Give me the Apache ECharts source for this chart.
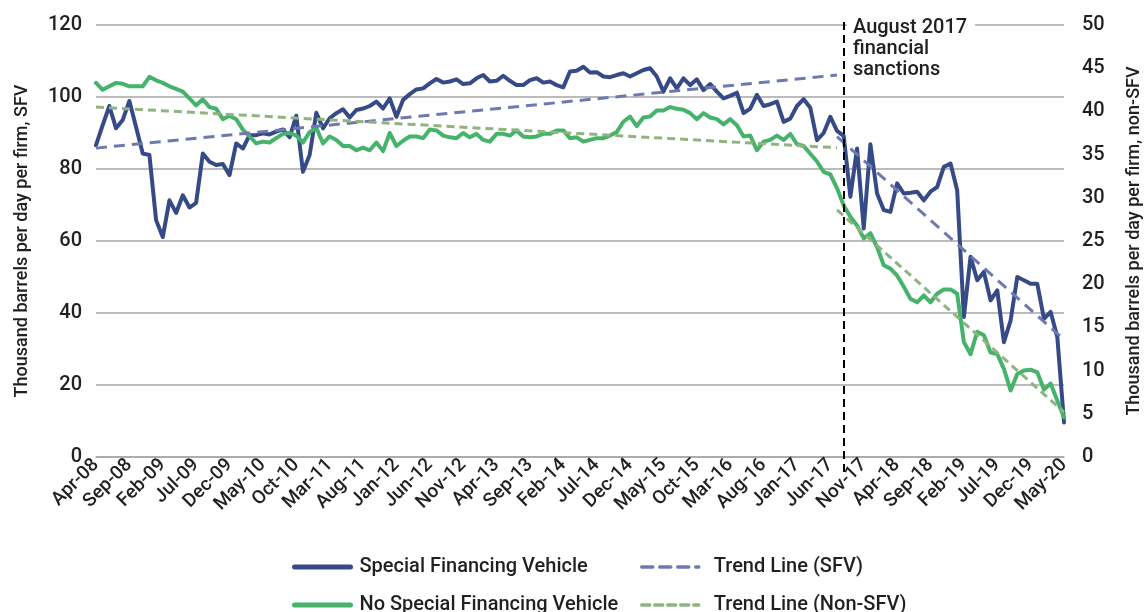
<!DOCTYPE html>
<html>
<head>
<meta charset="utf-8">
<script src="https://cdn.jsdelivr.net/npm/echarts@6/dist/echarts.min.js"></script>
<style>
  html, body { margin: 0; padding: 0; background: #fff; }
  #main { width: 1146px; height: 612px; }
</style>
</head>
<body>
<div id="main"></div>
<script>
// months Apr-08 .. May-20
var months = [];
var mNames = ['Jan','Feb','Mar','Apr','May','Jun','Jul','Aug','Sep','Oct','Nov','Dec'];
for (var y = 2008; y <= 2020; y++) {
    for (var m = 0; m < 12; m++) {
        if (y === 2008 && m < 3) continue;
        if (y === 2020 && m > 4) continue;
        months.push(mNames[m] + '-' + String(y).slice(2));
    }
}

// SFV, left axis
var sfv = [
    86.6, 92.2, 97.5, 91.3, 93.6, 98.9, 91.7, 84.3, 83.9, 65.8,
    61.1, 71.3, 67.8, 72.7, 69.3, 70.6, 84.3, 82.0, 81.1, 81.4,
    78.3, 87.1, 85.7, 89.4, 89.4, 89.9, 89.6, 90.4, 91.0, 88.8,
    94.8, 79.2, 83.9, 95.6, 91.3, 94.1, 95.5, 96.6, 94.3, 96.4,
    96.8, 97.5, 98.7, 96.8, 99.6, 94.5, 99.2, 100.8, 102.1, 102.4,
    103.8, 105.0, 104.0, 104.3, 104.9, 103.6, 103.8, 105.2, 106.1, 104.3,
    104.5, 105.9, 104.5, 103.3, 103.3, 104.7, 105.2, 104.0, 104.3, 103.3,
    102.7, 107.1, 107.3, 108.4, 106.8, 106.9, 105.7, 105.5, 106.1, 106.6,
    105.7, 106.6, 107.5, 108.0, 105.7, 101.5, 105.2, 102.4, 105.2, 103.3,
    104.9, 101.9, 103.6, 101.5, 99.6, 100.3, 101.2, 95.5, 96.8, 100.6,
    97.5, 98.0, 98.7, 93.1, 94.0, 97.5, 99.4, 97.0, 88.0, 90.0,
    94.5, 90.6, 89.2, 72.3, 85.7, 63.5, 86.9, 73.2, 68.6, 68.1,
    76.0, 73.2, 73.4, 73.7, 71.3, 73.7, 75.0, 80.6, 81.5, 74.1,
    38.9, 55.6, 49.1, 51.4, 43.5, 46.3, 31.9, 37.9, 50.0, 49.1,
    48.1, 48.1, 38.4, 40.3, 33.3, 9.6
];

// non-SFV, right axis
var nonSfv = [
    43.3, 42.5, 42.9, 43.3, 43.2, 42.9, 42.9, 42.9, 44.0, 43.6,
    43.3, 42.9, 42.6, 42.3, 41.5, 40.7, 41.4, 40.5, 40.3, 39.1,
    39.5, 39.1, 37.9, 37.1, 36.3, 36.5, 36.4, 36.9, 37.4, 37.5,
    37.2, 36.4, 37.6, 38.1, 36.3, 37.1, 36.7, 36.0, 36.0, 35.5,
    35.8, 35.5, 36.4, 35.4, 37.5, 36.0, 36.6, 37.1, 37.1, 36.9,
    37.9, 37.8, 37.2, 37.0, 36.9, 37.5, 37.0, 37.4, 36.7, 36.5,
    37.4, 37.4, 37.2, 37.8, 37.1, 37.0, 37.1, 37.4, 37.4, 37.8,
    37.8, 36.9, 37.0, 36.5, 36.7, 36.9, 36.9, 37.2, 37.6, 38.8,
    39.4, 38.3, 39.3, 39.4, 40.1, 40.1, 40.5, 40.3, 40.2, 39.8,
    39.1, 39.8, 39.3, 39.1, 38.5, 39.1, 38.4, 37.1, 37.2, 35.5,
    36.5, 36.7, 37.2, 36.7, 37.4, 36.2, 36.0, 35.1, 34.2, 33.0,
    32.7, 31.1, 29.1, 27.8, 26.8, 25.3, 25.9, 24.3, 22.2, 21.8,
    21.0, 19.7, 18.3, 17.9, 18.7, 17.9, 18.9, 19.4, 19.4, 18.9,
    13.3, 11.9, 14.5, 14.1, 12.1, 11.9, 10.2, 7.7, 9.6, 10.0,
    10.1, 9.8, 7.8, 8.5, 6.5, 4.6
];

// trend lines, end points
var sfvTrendPre = [['Apr-08', 85.8], ['Jul-17', 106.1]];
var sfvTrendPost = [['Jul-17', 89.0], ['May-20', 32.6]];
var nonTrendPre = [['Apr-08', 40.5], ['Jul-17', 35.8]];
var nonTrendPost = [['Jul-17', 28.6], ['May-20', 5.2]];

// sanctions line sits between Jul-17 and Aug-17
var sanctionIndex = 111.5;

var leftTicks = { min: 0, max: 120, interval: 20 };
var rightTicks = { min: 0, max: 50, interval: 5 };

var txt = '#231f20';
var font = 'Roboto';
var blue = '#354a86', green = '#46b36a', blueTrend = '#6f79b1', greenTrend = '#8fb47e';

function legendAt(name, left, top, iconW, lineW, gap) {
    return {
        data: [name],
        left: left, top: top,
        itemWidth: iconW, itemHeight: 3,
        itemStyle: { opacity: 0 },
        lineStyle: { width: lineW, cap: 'round' },
        textStyle: { color: txt, fontSize: 20, fontWeight: 500, padding: [0, 0, 0, gap] }
    };
}

var myChart = echarts.init(document.getElementById('main'));

myChart.setOption({
    animation: false,
    textStyle: { fontFamily: font },
    grid: [
        { left: 96, right: 82, top: 25, bottom: 155, outerBoundsMode: 'none' },
        // taller grid only for the sanctions marker, so it runs past the axes
        { left: 96, right: 82, top: 18, bottom: 140, outerBoundsMode: 'none' }
    ],
    legend: [
        legendAt('Special Financing Vehicle', 287, 552, 56, 5, 4),
        legendAt('Trend Line (SFV)', 635, 552, 57, 3.5, 10),
        legendAt('No Special Financing Vehicle', 287, 590, 56, 5, 4),
        legendAt('Trend Line (Non-SFV)', 635, 590, 57, 3.5, 10)
    ],
    xAxis: [
        {
            type: 'category',
            data: months,
            boundaryGap: false,
            axisLine: { lineStyle: { color: '#a6a6a6', width: 1.5 } },
            axisTick: { show: false },
            axisLabel: {
                interval: 4,
                rotate: 45,
                margin: 5,
                color: txt,
                fontSize: 19,
                fontWeight: 500
            }
        },
        {
            type: 'category',
            gridIndex: 1,
            data: months,
            boundaryGap: false,
            show: false
        }
    ],
    yAxis: [
        {
            type: 'value',
            min: leftTicks.min, max: leftTicks.max, interval: leftTicks.interval,
            name: 'Thousand barrels per day per firm, SFV',
            nameLocation: 'middle',
            nameRotate: 90,
            nameGap: 65,
            nameTextStyle: { color: txt, fontSize: 18, fontWeight: 500 },
            axisLine: { show: false },
            axisTick: { show: false },
            axisLabel: { color: txt, fontSize: 20, fontWeight: 500, margin: 14 },
            splitLine: { lineStyle: { color: '#a6a6a6', width: 1.5 } }
        },
        {
            type: 'value',
            min: rightTicks.min, max: rightTicks.max, interval: rightTicks.interval,
            name: 'Thousand barrels per day per firm, non-SFV',
            nameLocation: 'middle',
            nameRotate: 90,
            nameGap: 61,
            nameTextStyle: { color: txt, fontSize: 18, fontWeight: 500 },
            axisLine: { show: false },
            axisTick: { show: false },
            axisLabel: { color: txt, fontSize: 20, fontWeight: 500, margin: 18 },
            splitLine: { show: false }
        },
        {
            type: 'value',
            gridIndex: 1,
            min: 0, max: 1,
            show: false
        }
    ],
    series: [
        {
            name: 'Trend Line (SFV)',
            type: 'line',
            yAxisIndex: 0,
            data: sfvTrendPre,
            symbol: 'none',
            z: 3,
            lineStyle: { color: blueTrend, width: 3, type: [11, 7] },
            itemStyle: { color: blueTrend }
        },
        {
            name: 'Trend Line (SFV)',
            type: 'line',
            yAxisIndex: 0,
            data: sfvTrendPost,
            symbol: 'none',
            z: 3,
            lineStyle: { color: blueTrend, width: 3, type: [11, 7] },
            itemStyle: { color: blueTrend }
        },
        {
            name: 'Trend Line (Non-SFV)',
            type: 'line',
            yAxisIndex: 1,
            data: nonTrendPre,
            symbol: 'none',
            z: 3,
            lineStyle: { color: greenTrend, width: 3, type: [8, 5] },
            itemStyle: { color: greenTrend }
        },
        {
            name: 'Trend Line (Non-SFV)',
            type: 'line',
            yAxisIndex: 1,
            data: nonTrendPost,
            symbol: 'none',
            z: 3,
            lineStyle: { color: greenTrend, width: 3, type: [8, 5] },
            itemStyle: { color: greenTrend }
        },
        {
            name: 'Special Financing Vehicle',
            type: 'line',
            yAxisIndex: 0,
            data: sfv,
            symbol: 'none',
            z: 2,
            lineStyle: { color: blue, width: 4, cap: 'round', join: 'round' },
            itemStyle: { color: blue }
        },
        {
            name: 'No Special Financing Vehicle',
            type: 'line',
            yAxisIndex: 1,
            data: nonSfv,
            symbol: 'none',
            z: 2,
            lineStyle: { color: green, width: 4, cap: 'round', join: 'round' },
            itemStyle: { color: green }
        },
        {
            name: 'sanctions',
            type: 'line',
            xAxisIndex: 1,
            yAxisIndex: 2,
            data: [],
            markLine: {
                silent: true,
                symbol: 'none',
                label: { show: false },
                lineStyle: { color: '#000', width: 2, type: [8, 5] },
                data: [{ xAxis: sanctionIndex }]
            }
        }
    ],
    graphic: [
        {
            type: 'text',
            left: 847,
            top: 17,
            z: 100,
            style: {
                text: 'August 2017\nfinancial\nsanctions',
                fill: txt,
                font: '500 20px Roboto',
                lineHeight: 21,
                backgroundColor: '#fff',
                padding: [0, 8, 0, 6]
            }
        }
    ]
});
</script>
</body>
</html>
